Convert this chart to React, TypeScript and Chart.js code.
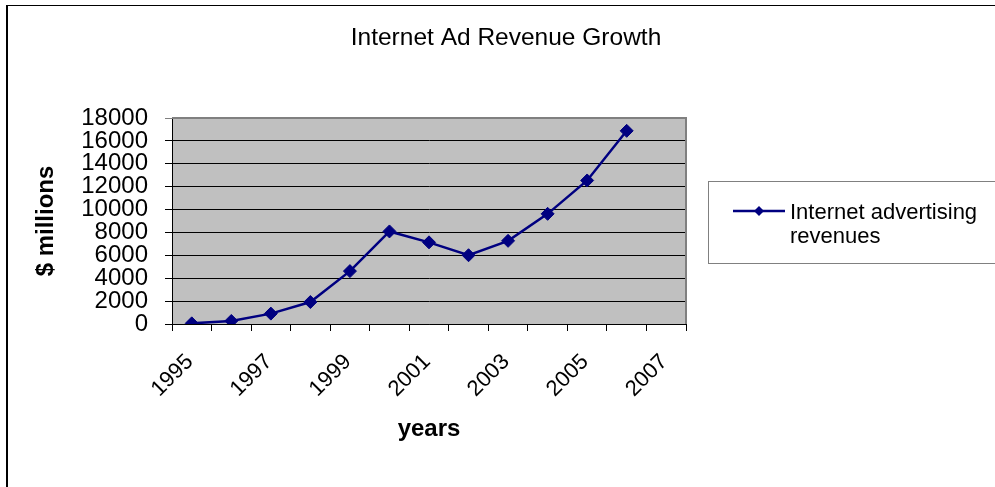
import React, { useEffect, useRef } from "react";
import { Chart, registerables } from "chart.js";

Chart.register(...registerables);

const years = ["1995", "1996", "1997", "1998", "1999", "2000", "2001", "2002", "2003", "2004", "2005", "2006", "2007"];
const revenues: (number | null)[] = [55, 267, 907, 1920, 4621, 8087, 7134, 6010, 7267, 9626, 12542, 16879, null];
const seriesName = "Internet advertising revenues";
const legendLines = ["Internet advertising", "revenues"];
const chartTitle = "Internet Ad Revenue Growth";
const yTitle = "$ millions";
const xTitle = "years";

const FONT = '"Liberation Sans", Arial, Helvetica, sans-serif';
const NAVY = "#000080";

const framePlugin = {
  id: "frame",
  beforeDraw(chart: any) {
    const { ctx, chartArea } = chart;
    ctx.save();
    ctx.fillStyle = "#ffffff";
    ctx.fillRect(0, 0, chart.width, chart.height);
    ctx.fillStyle = "#c0c0c0";
    ctx.fillRect(chartArea.left, chartArea.top, chartArea.right - chartArea.left, chartArea.bottom - chartArea.top);
    // outer chart border
    ctx.fillStyle = "#000";
    ctx.fillRect(6, 5, 2, chart.height);
    ctx.fillRect(6, 5, chart.width, 1);
    // chart title
    ctx.font = `24.5px ${FONT}`;
    ctx.textAlign = "center";
    ctx.textBaseline = "alphabetic";
    ctx.fillText(chartTitle, 506, 45);
    ctx.restore();
  },
  beforeDatasetsDraw(chart: any) {
    const { ctx, chartArea } = chart;
    ctx.save();
    ctx.strokeStyle = "#808080";
    ctx.lineWidth = 2;
    ctx.beginPath();
    ctx.moveTo(chartArea.left, chartArea.top);
    ctx.lineTo(chartArea.right, chartArea.top);
    ctx.lineTo(chartArea.right, chartArea.bottom);
    ctx.stroke();
    ctx.restore();
  },
  afterDraw(chart: any) {
    const { ctx } = chart;
    ctx.save();
    // legend box
    ctx.strokeStyle = "#808080";
    ctx.lineWidth = 1;
    ctx.strokeRect(708.5, 181.5, 320, 82);
    // legend line + marker
    ctx.strokeStyle = NAVY;
    ctx.lineWidth = 2.5;
    ctx.beginPath();
    ctx.moveTo(733, 211);
    ctx.lineTo(785, 211);
    ctx.stroke();
    ctx.fillStyle = NAVY;
    ctx.beginPath();
    ctx.moveTo(759 - 5, 211);
    ctx.lineTo(759, 211 - 5);
    ctx.lineTo(759 + 5, 211);
    ctx.lineTo(759, 211 + 5);
    ctx.closePath();
    ctx.fill();
    // legend text
    ctx.fillStyle = "#000";
    ctx.font = `22px ${FONT}`;
    ctx.textAlign = "left";
    ctx.textBaseline = "alphabetic";
    legendLines.forEach((t, i) => ctx.fillText(t, 790, 219 + i * 24));
    ctx.restore();
  },
};

export default function App() {
  const ref = useRef<HTMLCanvasElement | null>(null);

  useEffect(() => {
    if (!ref.current) return;
    const chart = new Chart(ref.current, {
      type: "line",
      data: {
        labels: years,
        datasets: [
          {
            label: seriesName,
            data: revenues,
            borderColor: NAVY,
            backgroundColor: NAVY,
            borderWidth: 2.5,
            pointStyle: "rectRot",
            pointRadius: 6.5,
            pointBorderWidth: 1,
            pointBackgroundColor: NAVY,
            pointBorderColor: NAVY,
            tension: 0,
            spanGaps: false,
          },
        ],
      },
      options: {
        responsive: false,
        animation: false,
        devicePixelRatio: 1,
        layout: { padding: { left: 0, right: 309, top: 118, bottom: 0 } },
        plugins: {
          legend: { display: false },
          tooltip: { enabled: false },
          title: { display: false },
        },
        scales: {
          x: {
            type: "category",
            offset: true,
            afterFit(scale: any) {
              scale.height = 163;
            },
            grid: {
              display: true,
              offset: true,
              drawOnChartArea: false,
              drawTicks: true,
              tickLength: 7,
              color: "#000",
            },
            border: { display: true, color: "#000", width: 1 },
            ticks: {
              autoSkip: false,
              maxRotation: 45,
              minRotation: 45,
              padding: 18,
              labelOffset: -2,
              color: "#000",
              font: { family: FONT, size: 22 },
              callback: (_v: any, i: number) => (i % 2 === 0 ? years[i] : ""),
            },
            title: {
              display: true,
              text: xTitle,
              color: "#000",
              font: { family: FONT, size: 24, weight: "bold" },
              padding: { top: 0, bottom: 43 },
            },
          },
          y: {
            min: 0,
            max: 18000,
            afterFit(scale: any) {
              scale.width = 172;
            },
            grid: {
              color: (c: any) => (c.tick && c.tick.value === 18000 ? "#808080" : "#000"),
              lineWidth: 1,
              tickLength: 7,
              drawTicks: true,
            },
            border: { display: true, color: "#000", width: 1 },
            ticks: {
              stepSize: 2000,
              autoSkip: false,
              padding: 17,
              color: "#000",
              font: { family: FONT, size: 24 },
              callback: (v: any) => String(v),
            },
            title: {
              display: true,
              text: yTitle,
              color: "#000",
              font: { family: FONT, size: 24, weight: "bold" },
              padding: { top: 32, bottom: 0 },
            },
          },
        },
      },
      plugins: [framePlugin],
    });
    return () => chart.destroy();
  }, []);

  return (
    <div style={{ position: "fixed", left: 0, top: 0, width: 995, height: 487, background: "#fff" }}>
      <canvas ref={ref} width={995} height={487} style={{ display: "block", width: 995, height: 487 }} />
    </div>
  );
}
